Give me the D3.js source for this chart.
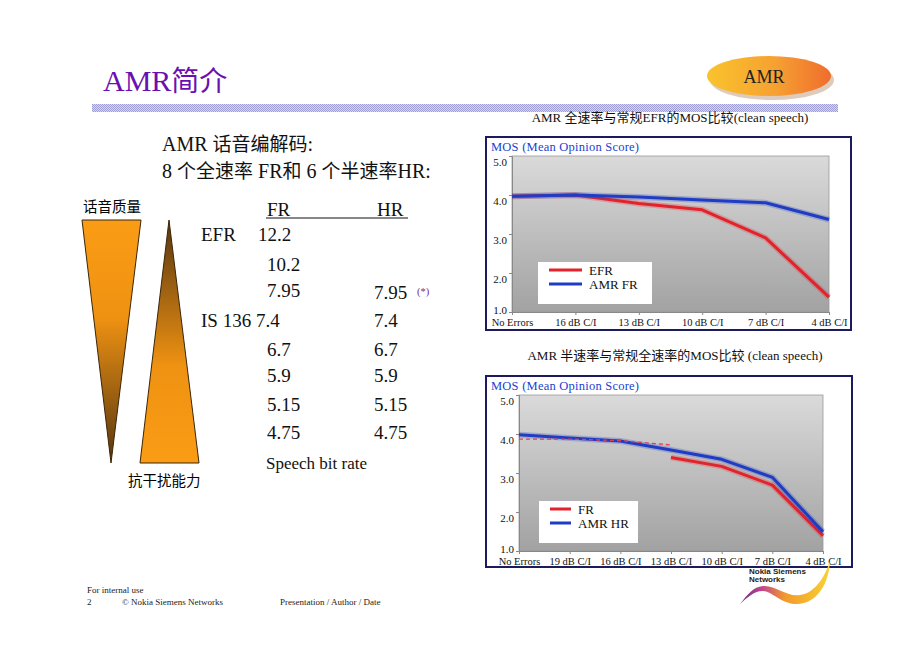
<!DOCTYPE html>
<html><head><meta charset="utf-8">
<script src="https://cdn.jsdelivr.net/npm/d3@7"></script>
<style>html,body{margin:0;padding:0;background:#fff;}svg{display:block;}</style>
</head><body>
<script>
// ---------- data ----------
const cat1 = ["No Errors","16 dB C/I","13 dB C/I","10 dB C/I","7 dB C/I","4 dB C/I"];
const efr   = [3.97, 4.00, 3.78, 3.62, 2.90, 1.38];
const amrFR = [3.97, 4.00, 3.95, 3.87, 3.80, 3.37];
const cat2 = ["No Errors","19 dB C/I","16 dB C/I","13 dB C/I","10 dB C/I","7 dB C/I","4 dB C/I"];
const fr    = [null, null, null, 3.40, 3.17, 2.69, 1.39];
const frRef = [3.87, 3.87, 3.83, 3.72];
const amrHR = [3.98, 3.90, 3.82, 3.59, 3.35, 2.89, 1.49];
const yTicks = [1.0, 2.0, 3.0, 4.0, 5.0];
const legend1 = ["EFR", "AMR FR"];
const legend2 = ["FR", "AMR HR"];
const frRates = ["12.2","10.2","7.95","7.4","6.7","5.9","5.15","4.75"];
const hrRates = ["7.95","7.4","6.7","5.9","5.15","4.75"];

const W = 920, H = 650;
const serif = "'Liberation Serif','Times New Roman',serif";
const cjk = "'Noto Sans CJK SC','Noto Sans',sans-serif";
const RED = "#e3232b", BLUE = "#1f3cc4";

const svg = d3.select("body").append("svg").attr("width", W).attr("height", H)
  .attr("font-family", serif);
svg.append("rect").attr("width", W).attr("height", H).attr("fill", "#fff");
const defs = svg.append("defs");

function linGrad(id, stops, x2, y2) {
  const g = defs.append("linearGradient").attr("id", id)
    .attr("x1", 0).attr("y1", 0).attr("x2", x2).attr("y2", y2);
  stops.forEach(s => g.append("stop").attr("offset", s[0]).attr("stop-color", s[1]));
}
linGrad("plotGrad", [[0, "#dadada"], [1, "#a2a2a2"]], 0, 1);
linGrad("triDown", [[0, "#fa9c14"], [0.4, "#ef9212"], [1, "#553510"]], 0, 1);
linGrad("triUp", [[0, "#553510"], [0.6, "#ef9212"], [1, "#fa9c14"]], 0, 1);
linGrad("ellGrad", [[0, "#f9c32c"], [0.55, "#f6a132"], [1, "#ef6d2e"]], 1, 0);
linGrad("swoosh", [[0, "#6a2a8a"], [0.25, "#c2488a"], [0.5, "#f29a2a"], [1, "#f8d236"]], 1, 0);
const pat = defs.append("pattern").attr("id", "band").attr("width", 2).attr("height", 2)
  .attr("patternUnits", "userSpaceOnUse");
pat.append("rect").attr("width", 2).attr("height", 2).attr("fill", "#d6d6f0");
pat.append("rect").attr("width", 1).attr("height", 1).attr("fill", "#9f9fd6");
pat.append("rect").attr("x", 1).attr("y", 1).attr("width", 1).attr("height", 1).attr("fill", "#9f9fd6");

const C = t => `<tspan font-family="Noto Sans CJK SC">${t}</tspan>`;

// ---------- header ----------
svg.append("text").attr("x", 103).attr("y", 91).attr("fill", "#6a10b0").attr("font-size", 30)
  .html(`AMR<tspan font-family="Noto Sans CJK SC" font-size="28">简介</tspan>`);
svg.append("rect").attr("x", 92).attr("y", 104).attr("width", 746).attr("height", 8).attr("fill", "url(#band)");
svg.append("ellipse").attr("cx", 772).attr("cy", 80).attr("rx", 62).attr("ry", 20).attr("fill", "#c9a890").attr("opacity", 0.6);
svg.append("ellipse").attr("cx", 769).attr("cy", 76).attr("rx", 62).attr("ry", 20).attr("fill", "url(#ellGrad)");
svg.append("text").attr("x", 764).attr("y", 83).attr("text-anchor", "middle").attr("fill", "#222")
  .attr("font-size", 18).text("AMR");

// ---------- left text ----------
svg.append("text").attr("x", 162).attr("y", 151).attr("font-size", 20).attr("fill", "#111")
  .html(`AMR <tspan font-family="Noto Sans CJK SC" font-size="19">话音编解码</tspan>:`);
svg.append("text").attr("x", 162).attr("y", 178).attr("font-size", 20).attr("fill", "#111")
  .html(`8 <tspan font-family="Noto Sans CJK SC" font-size="19">个全速率</tspan> FR<tspan font-family="Noto Sans CJK SC" font-size="19">和</tspan> 6 <tspan font-family="Noto Sans CJK SC" font-size="19">个半速率</tspan>HR:`);

svg.append("text").attr("x", 83).attr("y", 212).attr("font-family", cjk).attr("font-size", 14.5).text("话音质量");
svg.append("text").attr("x", 128).attr("y", 486).attr("font-family", cjk).attr("font-size", 14.5).text("抗干扰能力");

svg.append("path").attr("d", "M82,220L141,220L111,463Z").attr("fill", "url(#triDown)").attr("stroke", "#3a2508").attr("stroke-width", 1);
svg.append("path").attr("d", "M169,220L199,463L140,463Z").attr("fill", "url(#triUp)").attr("stroke", "#3a2508").attr("stroke-width", 1);

// table
const tb = svg.append("g").attr("font-size", 19).attr("fill", "#111");
tb.append("text").attr("x", 267).attr("y", 216).text("FR");
tb.append("text").attr("x", 377).attr("y", 216).text("HR");
tb.append("line").attr("x1", 266).attr("x2", 408).attr("y1", 218).attr("y2", 218).attr("stroke", "#111").attr("stroke-width", 1);
const frY = [241, 271, 297, 327, 356, 382, 411, 439];
const frX = [258, 267, 267, 236, 267, 267, 267, 267];
tb.append("text").attr("x", 201).attr("y", 241).text("EFR");
tb.append("text").attr("x", 201).attr("y", 327).text("IS 136 7.4");
frRates.forEach((r, i) => { if (i !== 3) tb.append("text").attr("x", frX[i]).attr("y", frY[i]).text(r); });
const hrY = [299, 327, 356, 382, 411, 439];
hrRates.forEach((r, i) => tb.append("text").attr("x", 374).attr("y", hrY[i]).text(r));
svg.append("text").attr("x", 417).attr("y", 295).attr("fill", "#7a2a8a").attr("font-size", 10.5).text("(*)");
svg.append("text").attr("x", 266).attr("y", 469).attr("font-size", 17).attr("fill", "#111").text("Speech bit rate");

// ---------- charts ----------
function chart(o) {
  const g = svg.append("g");
  g.append("text").attr("x", o.titleX).attr("y", o.titleY).attr("text-anchor", "middle")
    .attr("font-size", 13).attr("fill", "#111").html(o.title);
  const y = d3.scaleLinear().domain([1, 5]).range([o.py1, o.py0]);
  const x = d3.scalePoint().domain(o.cats).range([o.px0, o.px1]);
  g.append("rect").attr("x", o.px0).attr("y", o.py0).attr("width", o.px1 - o.px0).attr("height", o.py1 - o.py0)
    .attr("fill", "url(#plotGrad)").attr("stroke", "#9a9a9a").attr("stroke-width", 0.8);
  const ya = g.append("g").attr("transform", `translate(${o.px0},0)`)
    .call(d3.axisLeft(y).tickValues(yTicks).tickFormat(d3.format(".1f")).tickSize(3).tickPadding(2));
  ya.attr("font-family", serif).attr("font-size", 11);
  ya.select(".domain").attr("stroke", "#888");
  ya.selectAll(".tick line").attr("stroke", "#888");
  ya.selectAll(".tick text").attr("fill", "#111").attr("dy", d => d === 1 ? "0.1em" : "0.85em");
  const xa = g.append("g").attr("transform", `translate(0,${o.py1})`)
    .call(d3.axisBottom(x).tickSize(3).tickPadding(1));
  xa.attr("font-family", serif).attr("font-size", 10.5);
  xa.select(".domain").attr("stroke", "#888");
  xa.selectAll(".tick line").attr("stroke", "#888");
  xa.selectAll(".tick text").attr("fill", "#111").attr("dy", o.xdy);
  const line = d3.line().defined(d => d.v != null).x(d => x(d.c)).y(d => y(d.v));
  o.series.forEach(s => {
    const pts = s.values.map((v, i) => ({ c: o.cats[i], v }));
    if (!s.dash) g.append("path").attr("d", line(pts)).attr("fill", "none").attr("stroke", s.color)
      .attr("stroke-opacity", 0.25).attr("stroke-width", 6).attr("stroke-linejoin", "round");
    g.append("path").attr("d", line(pts)).attr("fill", "none").attr("stroke", s.color)
      .attr("stroke-width", s.dash ? 1.3 : 3).attr("stroke-dasharray", s.dash || null).attr("stroke-linejoin", "round");
  });
  g.append("rect").attr("x", o.lx).attr("y", o.ly).attr("width", o.lw).attr("height", 42).attr("fill", "#fff");
  o.legend.forEach((t, i) => {
    g.append("line").attr("x1", o.lx + 11).attr("x2", o.lx + 11 + o.lline).attr("y1", o.ly + 8 + i * 14).attr("y2", o.ly + 8 + i * 14)
      .attr("stroke", i === 0 ? RED : BLUE).attr("stroke-width", 3);
    g.append("text").attr("x", o.lx + 18 + o.lline).attr("y", o.ly + 12.5 + i * 14).attr("font-size", 13).attr("fill", "#111").text(t);
  });
  g.append("text").attr("x", o.bx0 + 5).attr("y", o.mosY).attr("fill", "#1a3fd0").attr("font-size", 12.5)
    .attr("textLength", 148).text("MOS (Mean Opinion Score)");
  g.append("rect").attr("x", o.bx0).attr("y", o.by0).attr("width", o.bx1 - o.bx0).attr("height", o.by1 - o.by0)
    .attr("fill", "none").attr("stroke", "#1b1b5e").attr("stroke-width", 2);
}

chart({
  title: `AMR ${C("全速率与常规")}EFR${C("的")}MOS${C("比较")}(clean   speech)`,
  titleX: 670, titleY: 122, cats: cat1,
  px0: 512, px1: 829, py0: 156, py1: 312, xdy: "0.95em",
  bx0: 486, bx1: 851, by0: 137, by1: 330, mosY: 151,
  series: [{ values: efr, color: RED }, { values: amrFR, color: BLUE }],
  legend: legend1, lx: 538, ly: 262, lw: 114, lline: 33
});
chart({
  title: `AMR ${C("半速率与常规全速率的")}MOS${C("比较")}  (clean speech)`,
  titleX: 675, titleY: 360, cats: cat2,
  px0: 519, px1: 823, py0: 395, py1: 551, xdy: "0.95em",
  bx0: 486, bx1: 852, by0: 376, by1: 567, mosY: 390,
  series: [{ values: fr, color: RED }, { values: amrHR, color: BLUE }, { values: frRef, color: "#e04050", dash: "4,3" }],
  legend: legend2, lx: 539, ly: 501, lw: 99, lline: 21
});

// ---------- footer ----------
const ft = svg.append("g").attr("font-size", 9).attr("fill", "#222");
ft.append("text").attr("x", 87).attr("y", 593).text("For internal use");
ft.append("text").attr("x", 87).attr("y", 605).text("2");
ft.append("text").attr("x", 122).attr("y", 605).text("© Nokia Siemens Networks");
ft.append("text").attr("x", 280).attr("y", 605).text("Presentation / Author / Date");

// logo
svg.append("path")
  .attr("d", "M740,604 C748,594 753,587 763,586 C776,585 786,597 800,595 C814,593 824,579 830,561 C829,584 817,603 798,604 C782,605 772,591 763,591 C753,591 746,599 740,604 Z")
  .attr("fill", "url(#swoosh)");
const lg = svg.append("g").attr("font-family", "'Liberation Sans',Arial,sans-serif").attr("font-size", 8).attr("font-weight", "bold").attr("fill", "#222");
lg.append("text").attr("x", 749).attr("y", 574).text("Nokia Siemens");
lg.append("text").attr("x", 749).attr("y", 582).text("Networks");
</script>
</body></html>
